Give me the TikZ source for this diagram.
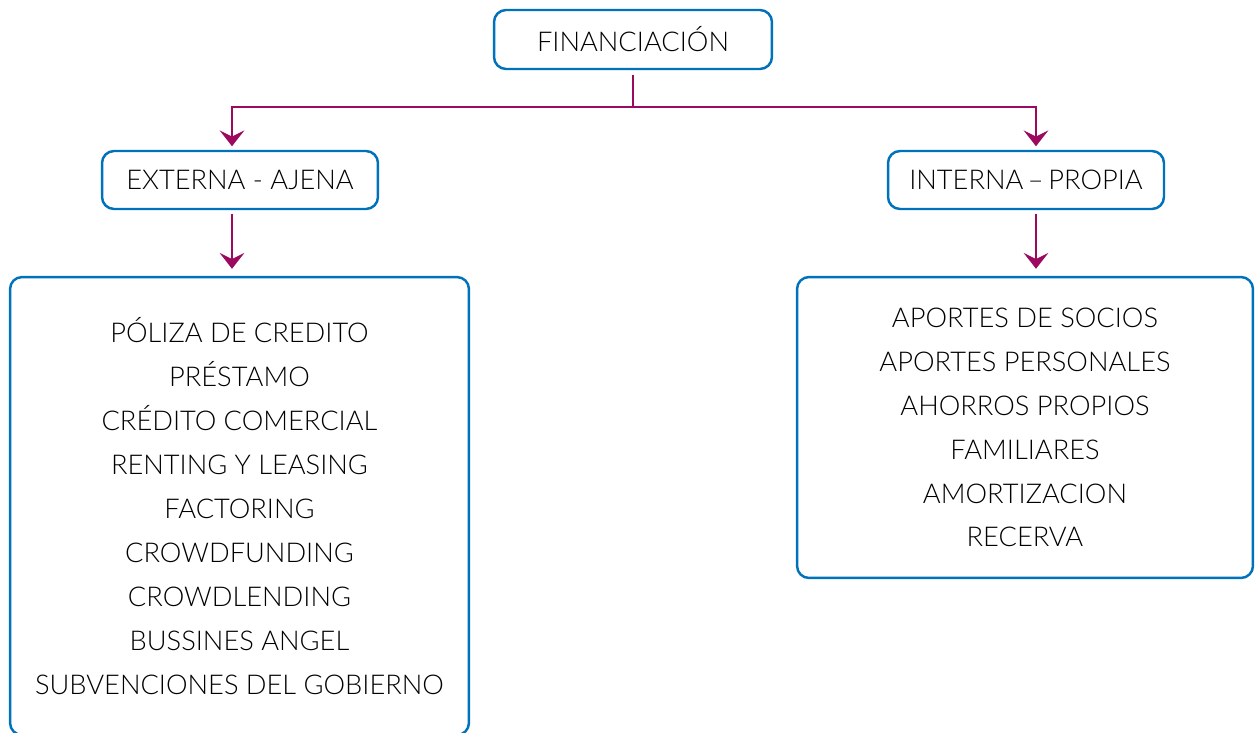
\documentclass[tikz,border=0pt]{standalone}
\usepackage{fontspec}
\setmainfont{Lato Light}
\usetikzlibrary{arrows.meta,positioning}
\definecolor{azul}{RGB}{0,114,188}
\definecolor{vino}{RGB}{155,10,94}
\tikzset{>={Stealth[length=9pt,width=14pt,inset=3.5pt]}}
\tikzset{caja/.style={draw=azul,line width=1.4pt,rounded corners=0.24cm,fill=white,align=center,inner sep=0pt}}
\tikzset{linea/.style={draw=vino,line width=1.6pt}}

\begin{document}
\begin{tikzpicture}[x=0.02cm,y=-0.02cm,font=\fontsize{15.5}{25}\selectfont]
\clip (0,0) rectangle (1255,733);
\node (fin) [caja,minimum width=5.56cm,minimum height=1.18cm] at (633,39.5) {FINANCIACIÓN};
\node (ext) [caja,minimum width=5.52cm,minimum height=1.16cm] at (240,180) {EXTERNA - AJENA};
\node (int) [caja,minimum width=5.52cm,minimum height=1.16cm] at (1026,180) {INTERNA\,–\,PROPIA};
\node (listext) [caja,minimum width=9.18cm,minimum height=9.16cm] at (239.5,506) {PÓLIZA DE CREDITO\\PRÉSTAMO\\CRÉDITO COMERCIAL\\RENTING Y LEASING\\FACTORING\\CROWDFUNDING\\CROWDLENDING\\BUSSINES ANGEL\\SUBVENCIONES DEL GOBIERNO};
\node (listint) [caja,minimum width=9.12cm,minimum height=6.02cm] at (1025,427.5) {APORTES DE SOCIOS\\APORTES PERSONALES\\AHORROS PROPIOS\\FAMILIARES\\AMORTIZACION\\RECERVA};
\coordinate (split) at (633,107);
\draw[linea,shorten <=3pt] (fin.south) -- (split);
\draw[linea,->,shorten >=2pt] (split) -| ([xshift=-0.16cm]ext.north);
\draw[linea,->,shorten >=2pt] (split) -| ([xshift=0.2cm]int.north);
\draw[linea,->,shorten <=2pt,shorten >=4pt] ([xshift=-0.16cm]ext.south) -- ([xshift=-0.16cm]ext.south |- listext.north);
\draw[linea,->,shorten <=2pt,shorten >=4pt] ([xshift=0.2cm]int.south) -- ([xshift=0.2cm]int.south |- listint.north);
\end{tikzpicture}
\end{document}
